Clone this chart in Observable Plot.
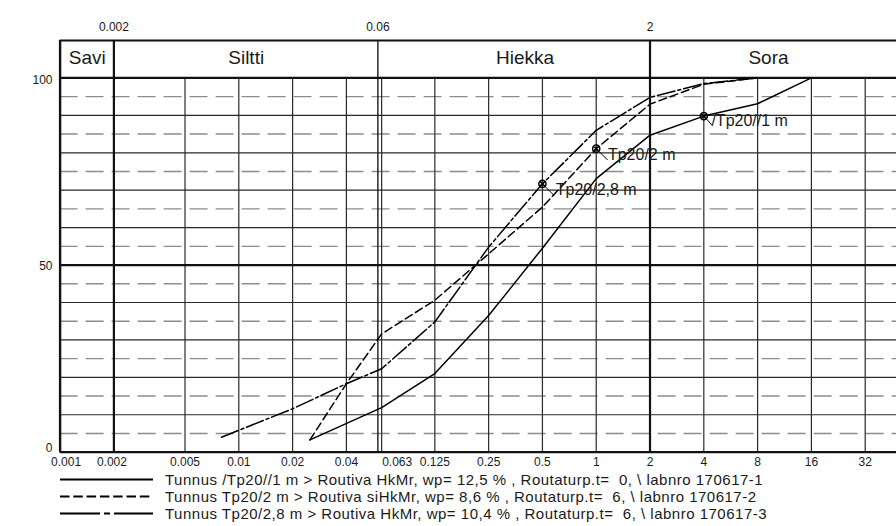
<!DOCTYPE html>
<html>
<head>
<meta charset="utf-8">
<script src="https://cdn.jsdelivr.net/npm/d3@7"></script>
<script src="https://cdn.jsdelivr.net/npm/@observablehq/plot@0.6"></script>
<style>
html, body { margin: 0; padding: 0; background: #fff; overflow: hidden; width: 896px; height: 526px; }
#wrap { position: relative; width: 896px; height: 526px; font-family: "Liberation Sans", Arial, Helvetica, sans-serif; }
#chart svg { display: block; }
.legrow { position: absolute; left: 0; height: 17px; width: 896px; overflow: visible; }
.legrow svg { position: absolute; left: 60px; top: 0; }
.legrow span { position: absolute; display: block; left: 165px; top: 0; height: 17px; font-size: 15px; letter-spacing: 0.5px; line-height: 17px; white-space: pre; color: #1a1a1a; overflow: visible; }
</style>
</head>
<body>
<div id="wrap"><div id="chart"></div><div id="legend"></div></div>
<script>
// ---- data ----
const fractions = ["Savi", "Siltti", "Hiekka", "Sora"];
const fractionLabelAt = [0.00142, 0.011, 0.40, 9.2];
const fractionLimits = [0.002, 0.06, 2];
const fractionLimitLabels = ["0.002", "0.06", "2"];
const bottomTicks = [0.001, 0.002, 0.005, 0.01, 0.02, 0.04, 0.063, 0.125, 0.25, 0.5, 1, 2, 4, 8, 16, 32];
const bottomTickLabels = ["0.001", "0.002", "0.005", "0.01", "0.02", "0.04", "0.063", "0.125", "0.25", "0.5", "1", "2", "4", "8", "16", "32"];
const gridSizes = [0.005, 0.01, 0.02, 0.04, 0.063, 0.125, 0.25, 0.5, 1, 4, 8, 16, 32];
const yTicks = [0, 50, 100];
const yTickLabels = ["0", "50", "100"];
const solidLevels = [10, 20, 30, 40, 60, 70, 80, 90];
const dashLevels = [5, 15, 25, 35, 45, 55, 65, 75, 85, 95];

const sizeTp1 = [0.025, 0.063, 0.125, 0.25, 0.5, 1, 2, 4, 8, 16];
const passTp1 = [3.3, 11.9, 21.0, 36.5, 54.5, 73.1, 84.7, 89.8, 93.1, 100];
const sizeTp2 = [0.025, 0.04, 0.063, 0.125, 0.25, 0.5, 1, 2, 4, 8];
const passTp2 = [3.3, 18.3, 31.6, 40.6, 53.0, 65.5, 81.1, 93.0, 98.3, 100];
const sizeTp3 = [0.008, 0.02, 0.04, 0.063, 0.125, 0.25, 0.5, 1, 2, 4, 8];
const passTp3 = [4.0, 11.6, 18.3, 22.3, 34.8, 54.8, 71.7, 86.0, 94.8, 98.5, 100];

const markerLabels = ["/Tp20//1 m", "Tp20/2 m", "Tp20/2,8 m"];
const markerSizes = [4, 1, 0.5];

const legendTexts = [
  "Tunnus /Tp20//1 m > Routiva HkMr, wp= 12,5 % , Routaturp.t=  0, \\ labnro 170617-1",
  "Tunnus Tp20/2 m > Routiva siHkMr, wp= 8,6 % , Routaturp.t=  6, \\ labnro 170617-2",
  "Tunnus Tp20/2,8 m > Routiva HkMr, wp= 10,4 % , Routaturp.t=  6, \\ labnro 170617-3"
];

// ---- build ----
const series = [
  {size: sizeTp1, pass: passTp1, dash: null},
  {size: sizeTp2, pass: passTp2, dash: "8,4"},
  {size: sizeTp3, pass: passTp3, dash: "18,3,3,3"}
];
const rows = series.map(s => s.size.map((d, i) => ({size: d, pass: s.pass[i]})));
const markers = markerSizes.map((m, k) => ({size: m, pass: series[k].pass[series[k].size.indexOf(m)], label: markerLabels[k]}));
const fractionRows = fractions.map((name, i) => ({name, at: fractionLabelAt[i]}));
const limitRows = fractionLimits.map((d, i) => ({size: d, label: fractionLimitLabels[i]}));
const bottomRows = bottomTicks.map((d, i) => ({size: d, label: bottomTickLabels[i]}));
const bottomDx = bottomTicks.map(d => d === 0.001 ? 6 : d === 0.063 ? 15.5 : d === 0.002 ? -2 : 0);
const yRows = yTicks.map((v, i) => ({v, label: yTickLabels[i]}));
const yLabelDy = [-4.5, 1.5, 2.5];

const crossCircle = {
  draw(ctx, size) {
    const r = Math.sqrt(size / Math.PI);
    ctx.moveTo(r, 0); ctx.arc(0, 0, r, 0, 2 * Math.PI);
    const q = r * 0.75;
    ctx.moveTo(-q, -q); ctx.lineTo(q, q);
    ctx.moveTo(q, -q); ctx.lineTo(-q, q);
  }
};
const leaderA = { draw(ctx) { ctx.moveTo(1.5, 1.5); ctx.lineTo(11.5, 11.5); } };
const leaderB = { draw(ctx) { ctx.moveTo(1.4, 1.3); ctx.lineTo(8, 9); } };
const labelDx = [7.6, 11.7, 13.3];
const labelDy = [5, 6.5, 5.7];

const marks = [
  Plot.ruleY(dashLevels, {x1: 0.001, x2: 64, stroke: "#8c8c8c", strokeWidth: 1.4, strokeDasharray: "18,8"}),
  Plot.ruleY(solidLevels, {x1: 0.001, x2: 64, stroke: "#2a2a2a", strokeWidth: 1.2}),
  Plot.ruleX(gridSizes, {y1: 0, y2: 100, stroke: "#2a2a2a", strokeWidth: 1.2}),
  Plot.ruleX([0.06], {y1: 0, y2: 110, stroke: "#1a1a1a", strokeWidth: 1.4}),
  Plot.ruleX([0.002, 2], {y1: 0, y2: 110, stroke: "#111", strokeWidth: 2.2}),
  Plot.ruleX([0.001], {y1: 0, y2: 110, stroke: "#111", strokeWidth: 2.4}),
  Plot.ruleY([0, 50, 100, 110], {x1: 0.001, x2: 64, stroke: "#111", strokeWidth: 2.2}),
  Plot.text(fractionRows, {x: "at", y: 105, text: "name", fontSize: 19, dy: -1.5, fill: "#1a1a1a"}),
  Plot.text(limitRows, {x: "size", y: 110, text: "label", fontSize: 12, dy: -13, fill: "#1a1a1a"}),
  ...bottomRows.map((r, k) => Plot.text([r], {x: "size", y: 0, text: "label", fontSize: 12, lineAnchor: "top", dy: 5, dx: bottomDx[k], fill: "#1a1a1a"})),
  ...yRows.map((r, k) => Plot.text([r], {x: 0.001, y: "v", text: "label", fontSize: 12, textAnchor: "end", dx: -7.6, dy: yLabelDy[k], fill: "#1a1a1a"})),
  ...rows.map((r, k) => Plot.line(r, {x: "size", y: "pass", stroke: "#000", strokeWidth: 1.5, strokeDasharray: series[k].dash})),
  Plot.dot(markers, {x: "size", y: "pass", symbol: crossCircle, r: 3.6, stroke: "#000", strokeWidth: 1.5, fill: "none"}),
  ...markers.map((m, k) => Plot.dot([m], {x: "size", y: "pass", symbol: k === 0 ? leaderB : leaderA, r: 5, stroke: "#000", strokeWidth: 1, fill: "none"})),
  ...markers.map((m, k) => Plot.text([m], {x: "size", y: "pass", text: "label", textAnchor: "start", dx: labelDx[k], dy: labelDy[k], fontSize: 16, fill: "#1a1a1a"}))
];

const chart = Plot.plot({
  width: 896,
  height: 470,
  marginLeft: 59.6,
  marginRight: 0,
  marginTop: 40,
  marginBottom: 18.3,
  style: {fontFamily: "'Liberation Sans', Arial, Helvetica, sans-serif", fontSize: "12px", color: "#1a1a1a", background: "#fff", overflow: "hidden"},
  x: {type: "log", domain: [0.001, 64], range: [59.6, 918.5], axis: null},
  y: {domain: [0, 110], range: [451.7, 40], axis: null},
  marks
});
document.getElementById("chart").appendChild(chart);

// ---- legend ----
const legendDash = [null, "9.5,3.8", "40,4,6,4"];
const legendCenters = [479.3, 496.3, 513.3];
const legend = document.getElementById("legend");
legendTexts.forEach((t, i) => {
  const row = document.createElement("div");
  row.className = "legrow";
  row.style.top = (legendCenters[i] - 8.5) + "px";
  const ns = "http://www.w3.org/2000/svg";
  const svg = document.createElementNS(ns, "svg");
  svg.setAttribute("width", "94"); svg.setAttribute("height", "17");
  const ln = document.createElementNS(ns, "line");
  ln.setAttribute("x1", "0"); ln.setAttribute("x2", "93");
  ln.setAttribute("y1", "8.5"); ln.setAttribute("y2", "8.5");
  ln.setAttribute("stroke", "#000"); ln.setAttribute("stroke-width", "2");
  if (legendDash[i]) ln.setAttribute("stroke-dasharray", legendDash[i]);
  svg.appendChild(ln);
  const span = document.createElement("span");
  span.textContent = t;
  row.appendChild(svg); row.appendChild(span);
  legend.appendChild(row);
});
</script>
</body>
</html>
